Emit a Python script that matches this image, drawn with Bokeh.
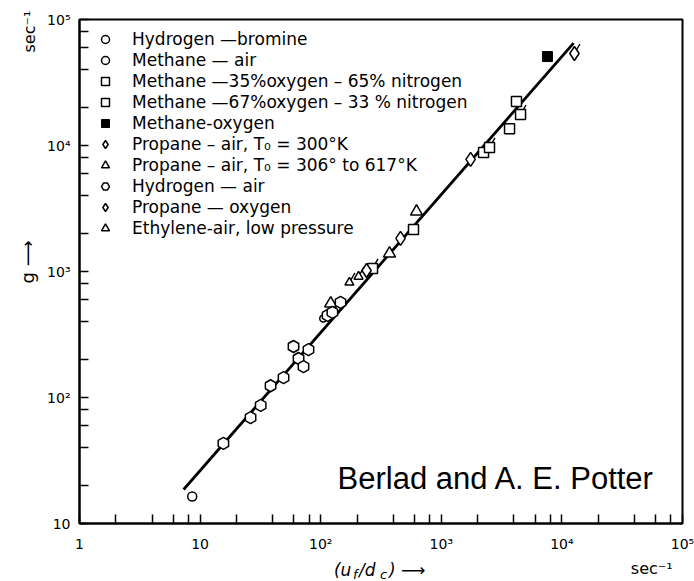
import math
from bokeh.plotting import figure
from bokeh.layouts import row, column
from bokeh.models import Legend, LegendItem, Label, FixedTicker, Range1d
from bokeh.embed import file_html
from bokeh.resources import INLINE

# Flame-stretch data: reciprocal residence time (u_f/d_c) vs critical velocity gradient g, both in sec^-1
h2_br_x = [8.6]
h2_br_y = [16.4]

ch4_air_x = [105]
ch4_air_y = [424]

ch4_35_x = [588, 2240, 3680, 4200]
ch4_35_y = [2150, 8790, 13600, 22300]

ch4_67_x = [269, 2510, 4540]
ch4_67_y = [1057, 9640, 17600]

ch4_o2_x = [7590]
ch4_o2_y = [50800]

c3_300_x = [240, 459, 1750]
c3_300_y = [1019, 1830, 7750]

c3_hot_x = [121, 372, 623]
c3_hot_y = [557, 1390, 2990]

h2_air_x = [15.6, 26.2, 31.8, 38.4, 49.2, 65.5, 59.5, 72, 79.2, 114, 125, 146]
h2_air_y = [43.2, 69.3, 86.5, 124, 144, 204, 254, 176, 240, 448, 473, 568]

c3_o2_x = [12700]
c3_o2_y = [53700]

c2h4_x = [173, 206]
c2h4_y = [818, 912]

# correlation line through the data
fit_x = [7.3, 12500]
fit_y = [18.6, 65000]

x_ticks = [1, 10, 100, 1000, 10000, 100000]
x_tick_text = ["1", "10", "10²", "10³", "10⁴", "10⁵"]
y_ticks = [10, 100, 1000, 10000, 100000]
y_tick_text = ["10", "10²", "10³", "10⁴", "10⁵"]
minor_steps = [2, 4, 6, 8]

FONT = "DejaVu Sans"
LEFT_W = 40
BOTTOM_H = 26
W, H = 694, 581

p = figure(width=W - LEFT_W, height=H - BOTTOM_H, x_axis_type="log", y_axis_type="log",
           x_range=(1, 1e5), y_range=(10, 1e5),
           output_backend="svg", toolbar_location=None,
           min_border_left=39, min_border_right=12,
           min_border_top=19, min_border_bottom=32)
p.background_fill_color = "white"
p.border_fill_color = "white"
p.outline_line_color = "black"
p.outline_line_width = 2
p.xgrid.visible = False
p.ygrid.visible = False

def minors(decades):
    return [m * d for d in decades for m in minor_steps]

p.xaxis.ticker = FixedTicker(ticks=x_ticks, minor_ticks=minors(x_ticks[:-1]))
p.yaxis.ticker = FixedTicker(ticks=y_ticks, minor_ticks=minors(y_ticks[:-1]))
p.xaxis.major_label_overrides = dict(zip(x_ticks, x_tick_text))
p.yaxis.major_label_overrides = dict(zip(y_ticks, y_tick_text))

for ax in (p.xaxis, p.yaxis):
    ax.axis_line_width = 2
    ax.major_tick_in = 9
    ax.major_tick_out = 0
    ax.minor_tick_in = 9
    ax.minor_tick_out = 0
    ax.major_tick_line_width = 1.5
    ax.minor_tick_line_width = 1.5
    ax.major_label_text_font = FONT
    ax.major_label_text_font_size = "14px"
    ax.major_label_text_color = "black"
p.xaxis.major_label_standoff = 12
p.yaxis.major_label_standoff = 9

# fitted line
p.line(fit_x, fit_y, line_color="black", line_width=2.8)

mk = dict(fill_color="white", line_color="black", line_width=1.5)
tick = dict(length=11, length_units="screen", angle=1.05,
            line_color="black", line_width=1.4)

r_h2br = p.scatter(h2_br_x, h2_br_y, marker="circle", size=9, **mk)
r_ch4air = p.scatter(ch4_air_x, ch4_air_y, marker="circle", size=7, **mk)
r_ch435 = p.scatter(ch4_35_x, ch4_35_y, marker="square", size=10, **mk)
p.ray(ch4_67_x, ch4_67_y, **tick)
r_ch467 = p.scatter(ch4_67_x, ch4_67_y, marker="square", size=10, **mk)
r_ch4o2 = p.scatter(ch4_o2_x, ch4_o2_y, marker="square", size=10,
                    fill_color="black", line_color="black")
r_c3300 = p.scatter(c3_300_x, c3_300_y, marker="diamond", size=14, **mk)
r_c3hot = p.scatter(c3_hot_x, c3_hot_y, marker="triangle", size=12, **mk)
r_h2air = p.scatter(h2_air_x, h2_air_y, marker="hex", size=12, angle=math.pi / 2, **mk)
p.ray(c3_o2_x, c3_o2_y, **tick)
r_c3o2 = p.scatter(c3_o2_x, c3_o2_y, marker="diamond", size=14, **mk)
p.ray(c2h4_x, c2h4_y, **tick)
r_c2h4 = p.scatter(c2h4_x, c2h4_y, marker="triangle", size=9, **mk)

items = [
    ("Hydrogen —bromine", r_h2br),
    ("Methane — air", r_ch4air),
    ("Methane —35%oxygen – 65% nitrogen", r_ch435),
    ("Methane —67%oxygen – 33 % nitrogen", r_ch467),
    ("Methane-oxygen", r_ch4o2),
    ("Propane – air, T₀ = 300°K", r_c3300),
    ("Propane – air, T₀ = 306° to 617°K", r_c3hot),
    ("Hydrogen — air", r_h2air),
    ("Propane — oxygen", r_c3o2),
    ("Ethylene-air, low pressure", r_c2h4),
]
legend = Legend(items=[LegendItem(label=t, renderers=[r]) for t, r in items],
                location="top_left", margin=5, padding=5,
                glyph_width=32, glyph_height=20, label_height=20,
                label_standoff=11, spacing=1,
                label_text_font=FONT, label_text_font_size="17px",
                label_text_color="black",
                background_fill_alpha=0, border_line_alpha=0)
p.add_layout(legend)

# credit inside the frame
p.add_layout(Label(x=138, y=22.8, text="Berlad and A. E. Potter",
                   text_font="Liberation Sans", text_font_size="31px",
                   text_color="black",
                   text_align="left", text_baseline="alphabetic"))


def strip(w, h):
    # blank panel whose coordinates are plain pixels, used for the outer captions
    s = figure(width=w, height=h, x_range=Range1d(0, w), y_range=Range1d(0, h),
               output_backend="svg", toolbar_location=None,
               x_axis_location=None, y_axis_location=None,
               min_border=0)
    s.outline_line_color = None
    s.grid.visible = False
    s.background_fill_color = "white"
    s.border_fill_color = "white"
    return s


left = strip(LEFT_W, H)
left.add_layout(Label(x=29, y=529, text="sec⁻¹", angle=math.pi / 2,
                      text_font=FONT, text_font_size="16px", text_color="black",
                      text_align="left", text_baseline="middle"))
left.add_layout(Label(x=27, y=298, text="g  ⟶", angle=math.pi / 2,
                      text_font=FONT, text_font_size="18px", text_color="black",
                      text_align="left", text_baseline="middle"))

bottom = strip(W - LEFT_W, BOTTOM_H)
bottom.add_layout(Label(x=598, y=13, text="sec⁻¹",
                        text_font=FONT, text_font_size="16px", text_color="black",
                        text_align="left", text_baseline="middle"))

# x quantity (u_f / d_c) with subscripts
pieces = [("(u", 0, 0, "17px"), ("f", 19, -5, "13px"), (" /d", 25, 0, "17px"),
          ("c", 46, -5, "13px"), (") ⟶", 55, 0, "17px")]
for txt, dx, dy, fs in pieces:
    bottom.add_layout(Label(x=276, y=12, x_offset=dx, y_offset=dy, text=txt,
                            text_font=FONT, text_font_size=fs, text_font_style="italic",
                            text_color="black",
                            text_align="left", text_baseline="middle"))

layout = row(left, column(p, bottom))
open("out.html", "w").write(file_html(layout, INLINE))
